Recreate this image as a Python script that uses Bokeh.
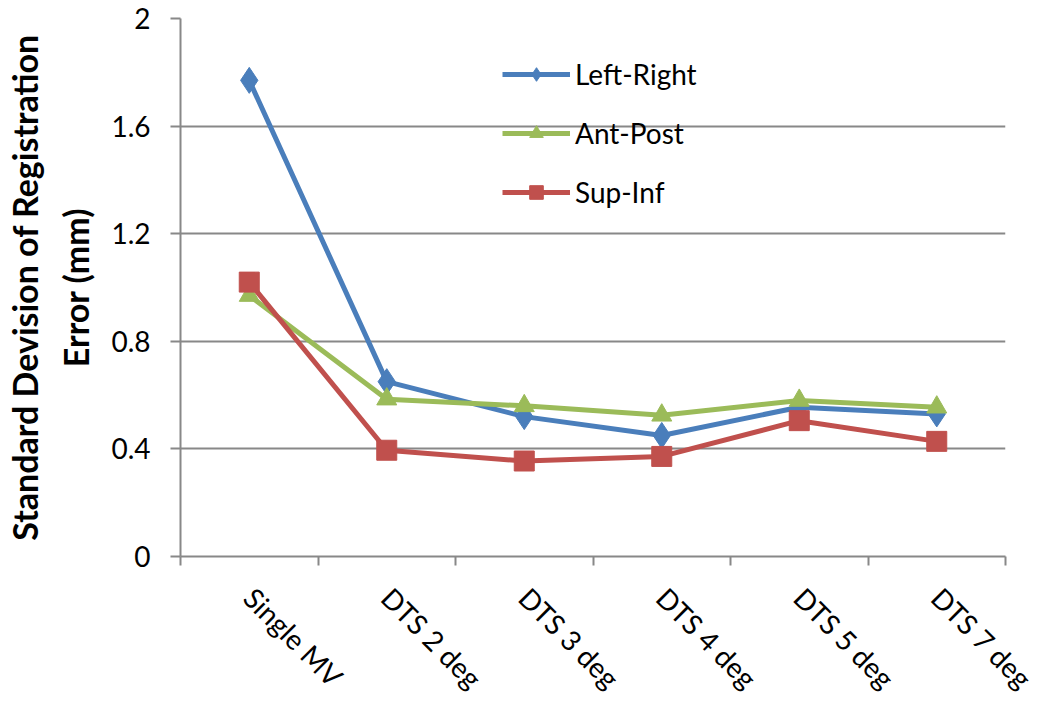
from bokeh.plotting import figure
from bokeh.models import FixedTicker, Range1d
from bokeh.embed import file_html
from bokeh.resources import INLINE
import math

categories = ["Single MV", "DTS 2 deg", "DTS 3 deg", "DTS 4 deg", "DTS 5 deg", "DTS 7 deg"]
left_right = [1.77, 0.65, 0.52, 0.45, 0.555, 0.53]
ant_post = [0.97, 0.585, 0.56, 0.525, 0.58, 0.555]
sup_inf = [1.02, 0.395, 0.355, 0.372, 0.505, 0.428]
y_ticks = [0, 0.4, 0.8, 1.2, 1.6, 2]
y_title = "Standard Devision of Registration\nError (mm)"

FONT = "Lato"
x = [i + 0.5 for i in range(len(categories))]

p = figure(width=1042, height=709, output_backend="svg", toolbar_location=None,
           x_range=Range1d(0, len(categories)), y_range=Range1d(0, 2),
           min_border_left=180, min_border_right=37, min_border_top=18, min_border_bottom=148)
p.outline_line_color = None
p.background_fill_color = "white"

blue, green, red = "#4A7EBB", "#9BBB59", "#C0504D"
p.line(x, left_right, line_color=blue, line_width=5, legend_label="Left-Right")
p.scatter(x, left_right, marker="diamond", size=26, fill_color=blue, line_color=blue, legend_label="Left-Right")
p.line(x, ant_post, line_color=green, line_width=5, legend_label="Ant-Post")
p.scatter(x, ant_post, marker="triangle", size=20, fill_color=green, line_color=green, legend_label="Ant-Post")
p.line(x, sup_inf, line_color=red, line_width=5, legend_label="Sup-Inf")
p.scatter(x, sup_inf, marker="square", size=20, fill_color=red, line_color=red, legend_label="Sup-Inf")

# x axis
p.xaxis.ticker = FixedTicker(ticks=x, minor_ticks=list(range(len(categories) + 1)))
p.xaxis.major_label_overrides = {v: c for v, c in zip(x, categories)}
p.xaxis.major_tick_line_color = None
p.xaxis.minor_tick_line_color = "#888888"
p.xaxis.minor_tick_line_width = 2
p.xaxis.minor_tick_out = 9
p.xaxis.minor_tick_in = 0
p.xaxis.axis_line_color = "#888888"
p.xaxis.axis_line_width = 2
p.xaxis.major_label_orientation = -math.pi / 4
p.xaxis.major_label_text_font = FONT
p.xaxis.major_label_text_font_size = "28px"
p.xaxis.major_label_text_color = "black"
p.xaxis.major_label_standoff = 27

# y axis
p.yaxis.ticker = FixedTicker(ticks=y_ticks)
p.yaxis.major_label_overrides = {0: "0", 2: "2"}
p.yaxis.minor_tick_line_color = None
p.yaxis.major_tick_line_color = "#888888"
p.yaxis.major_tick_line_width = 2
p.yaxis.major_tick_out = 10
p.yaxis.major_tick_in = 0
p.yaxis.axis_line_color = "#888888"
p.yaxis.axis_line_width = 2
p.yaxis.major_label_text_font = FONT
p.yaxis.major_label_text_font_size = "28px"
p.yaxis.major_label_text_color = "black"
p.yaxis.major_label_standoff = 20
p.yaxis.axis_label = y_title
p.yaxis.axis_label_text_font = FONT
p.yaxis.axis_label_text_font_size = "34px"
p.yaxis.axis_label_text_font_style = "bold"
p.yaxis.axis_label_text_color = "black"
p.yaxis.axis_label_text_line_height = 1.25
p.yaxis.axis_label_standoff = 12

p.xgrid.grid_line_color = None
p.ygrid.ticker = FixedTicker(ticks=y_ticks)
p.ygrid.grid_line_color = "#888888"
p.ygrid.grid_line_width = 2

leg = p.legend[0]
leg.location = (322, 347)
leg.background_fill_alpha = 0
leg.border_line_color = None
leg.label_text_font = FONT
leg.label_text_font_size = "28px"
leg.label_text_color = "black"
leg.glyph_width = 68
leg.glyph_height = 34
leg.label_height = 34
leg.spacing = 25
leg.padding = 0
leg.margin = 0
leg.label_standoff = 5

open("out.html", "w").write(file_html(p, INLINE))
